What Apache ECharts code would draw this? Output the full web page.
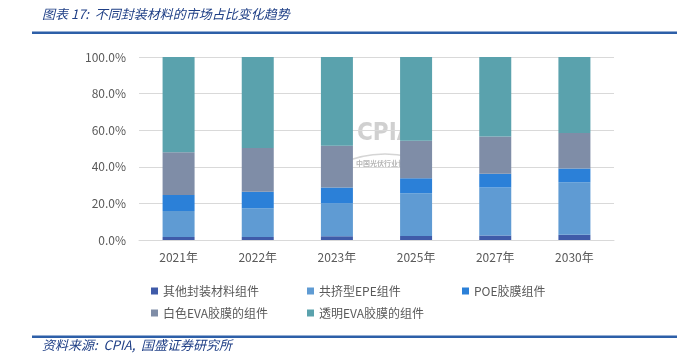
<!DOCTYPE html>
<html><head><meta charset="utf-8">
<script src="https://cdn.jsdelivr.net/npm/echarts@6/dist/echarts.min.js"></script>
<style>html,body{margin:0;padding:0;background:#fff}#c{width:678px;height:363px}</style>
</head><body><div id="c"></div>
<script>
const categories = ['2021年','2022年','2023年','2025年','2027年','2030年'];
const otherMaterial = [1.6, 1.6, 2.0, 2.2, 2.5, 2.9];
const coExtrudedEPE = [14.2, 15.7, 18.0, 23.3, 26.2, 28.6];
const poeFilm = [8.8, 9.1, 8.7, 8.2, 7.5, 7.6];
const whiteEVA = [23.3, 23.9, 22.8, 20.6, 20.4, 19.4];
const transparentEVA = [52.1, 49.7, 48.5, 45.7, 43.4, 41.5];
const seriesNames = ['其他封装材料组件','共挤型EPE组件','POE胶膜组件','白色EVA胶膜的组件','透明EVA胶膜的组件'];
const yTicks = [0, 20, 40, 60, 80, 100];

const colors = ['#3F5BA9','#5F9BD3','#2B80D8','#7F8DA7','#5AA2AD'];
const values = [otherMaterial, coExtrudedEPE, poeFilm, whiteEVA, transparentEVA];
const font = '"Noto Sans CJK SC", "Microsoft YaHei", sans-serif';
const legendPos = [[146,280],[302,280],[457,280],[146,302],[302,302]];

const chart = echarts.init(document.getElementById('c'), null, {renderer:'canvas'});
chart.setOption({
  animation: false,
  color: colors,
  grid: {left: 139, right: 64, top: 57, bottom: 123},
  graphic: [
    {type:'text', left: 42, top: 8, style:{text:'图表 17:  不同封装材料的市场占比变化趋势', fill:'#1F3F86', font:'italic 13px ' + font}},
    {type:'rect', shape:{x:32, y:31.5, width:645, height:2.5}, style:{fill:'#2D5FA8'}},
    {type:'rect', shape:{x:32, y:335.5, width:645, height:2.5}, style:{fill:'#2D5FA8'}},
    {type:'text', left: 42, top: 339, style:{text:'资料来源:  CPIA,  国盛证券研究所', fill:'#1F3F86', font:'italic 13px ' + font}},
    {type:'text', left: 357, top: 122, style:{text:'CPIA', fill:'rgba(150,150,150,0.45)', font:'bold 24px "DejaVu Sans Condensed", sans-serif'}},
    {type:'arc', shape:{cx:385, cy:262, r:108, startAngle:-Math.PI/2-0.45, endAngle:-Math.PI/2+0.45}, style:{stroke:'rgba(150,150,150,0.4)', lineWidth:1.5, fill:null}},
    {type:'text', left: 356, top: 160, style:{text:'中国光伏行业协会', fill:'rgba(110,110,110,0.5)', font:'bold 7px ' + font}}
  ],
  legend: seriesNames.map((n, i) => ({
    data: [n],
    left: legendPos[i][0], top: legendPos[i][1],
    itemWidth: 7, itemHeight: 7, itemGap: 0,
    icon: 'rect',
    textStyle: {fontSize: 12, color: '#595959', fontFamily: font},
    itemStyle: {borderWidth: 0},
    selectedMode: false
  })),
  xAxis: {
    type: 'category', data: categories,
    axisLine: {lineStyle: {color: '#D9D9D9'}},
    axisTick: {show: false},
    axisLabel: {color: '#595959', fontSize: 12, fontFamily: font, margin: 11}
  },
  yAxis: {
    type: 'value', min: 0, max: 100, interval: 20,
    axisLine: {show: false}, axisTick: {show: false},
    splitLine: {lineStyle: {color: '#D9D9D9'}},
    axisLabel: {color: '#595959', fontSize: 12, fontFamily: font, margin: 13,
      formatter: v => yTicks.includes(v) ? v.toFixed(1) + '%' : ''}
  },
  series: seriesNames.map((n, i) => ({
    name: n, type: 'bar', stack: 'total', data: values[i], barWidth: 32,
    itemStyle: {color: colors[i]}
  }))
});
</script></body></html>
